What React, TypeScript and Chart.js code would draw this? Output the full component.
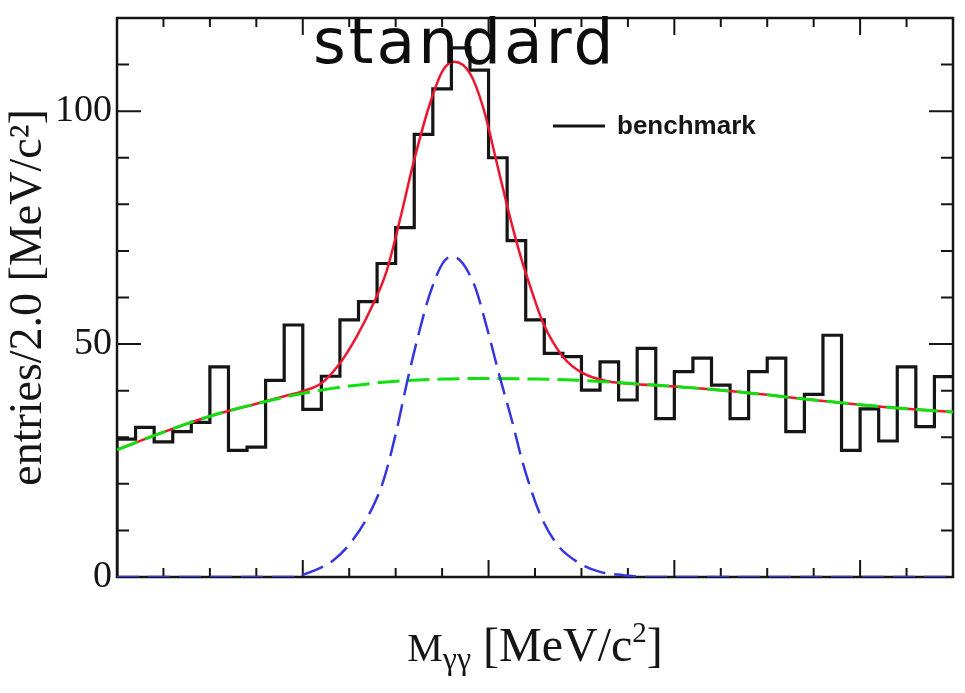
import React, { useEffect, useRef } from "react";
import { Chart, registerables } from "chart.js";

Chart.register(...registerables);

// ---- data ----
const xMin = 0;
const xMax = 90;
const binWidth = 2;
const counts = [
  29.6, 32.1, 29.0, 31.2, 33.2, 45.1, 27.2, 27.9, 42.2, 54.1,
  36.0, 43.1, 55.2, 59.1, 67.3, 75.0, 95.0, 104.8, 113.6, 108.8,
  90.0, 72.2, 55.2, 48.0, 47.3, 40.1, 46.2, 38.0, 49.1, 34.0,
  44.1, 47.0, 41.2, 34.0, 44.1, 47.0, 31.2, 39.2, 51.9, 27.2,
  36.1, 29.2, 45.1, 32.3, 43.0,
];

const bgX = [0, 5, 10, 15, 20, 25, 30, 35, 40, 45, 50, 55, 60, 65, 70, 75, 80, 85, 90];
const bgY = [27.3, 31.1, 34.5, 37.2, 39.4, 41.0, 42.0, 42.5, 42.6, 42.5, 42.2, 41.6, 40.9, 40.1, 39.1, 38.0, 37.0, 36.1, 35.4];

const sigX = [0, 19, 19.9, 23.3, 25.1, 27.2, 28.7, 30.1, 31.2, 32.4, 33.7, 35.3, 36.2, 38.4, 39.8, 41.2, 42.5, 43.7, 45.5, 47.3, 49.5, 52.0, 54.5, 57, 90];
const sigY = [0, 0, 0.4, 3.6, 7.2, 13.7, 20.8, 31.5, 41.6, 51.6, 60.9, 68.0, 68.7, 63.0, 53.7, 43.0, 33.7, 24.4, 13.7, 7.2, 3.3, 1.1, 0.4, 0, 0];

const totX = [0, 5, 10, 15, 18, 20, 22, 24, 25.8, 27.6, 29, 30.5, 31.9, 33.7, 35.1, 36.3, 38, 39.4, 40.9, 42.3, 43.6, 44.5, 45.9, 48, 50.2, 53.1, 55.2, 60, 65, 70, 75, 80, 85, 90];
const totY = [27.3, 31.1, 34.5, 37.2, 38.8, 39.9, 41.6, 45.9, 51.6, 58.7, 65.5, 77, 88.8, 101.7, 108.8, 110.6, 108.1, 100.9, 88.8, 77.3, 67.8, 62.3, 54.4, 47.3, 43.7, 41.9, 41.5, 40.9, 40.1, 39.1, 38.0, 37.0, 36.1, 35.4];

const yMin = 0;
const yMax = 120;
const yLabelValues = [0, 50, 100];

const titleText = "standard";
const legendLabel = "benchmark";
const yTitle = "entries/2.0 [MeV/c²]";

const SERIF = '"Liberation Serif", "DejaVu Serif", serif';

const deco = {
  id: "deco",
  beforeDatasetsDraw(chart: any) {
    const { ctx, chartArea: a, scales } = chart;
    const x = scales.x;
    const y = scales.y;
    ctx.save();
    ctx.strokeStyle = "#151515";
    ctx.lineWidth = 2;
    ctx.beginPath();
    for (const t of y.ticks) {
      const v = t.value;
      if (v <= yMin || v >= yMax) continue;
      const py = y.getPixelForValue(v);
      const L = v % 50 === 0 ? 24 : 12;
      ctx.moveTo(a.left, py);
      ctx.lineTo(a.left + L, py);
      ctx.moveTo(a.right, py);
      ctx.lineTo(a.right - L, py);
    }
    for (const t of x.ticks) {
      const v = t.value;
      if (v <= xMin || v >= xMax) continue;
      const px = x.getPixelForValue(v);
      const L = v % 20 === 0 ? 17 : 9;
      ctx.moveTo(px, a.bottom);
      ctx.lineTo(px, a.bottom - L);
      ctx.moveTo(px, a.top);
      ctx.lineTo(px, a.top + L);
    }
    ctx.stroke();
    ctx.lineWidth = 2.5;
    ctx.strokeRect(a.left, a.top, a.right - a.left, a.bottom - a.top);
    ctx.restore();
  },
  afterDraw(chart: any) {
    const { ctx, chartArea: a } = chart;
    ctx.save();
    // legend
    ctx.strokeStyle = "#151515";
    ctx.lineWidth = 3;
    ctx.beginPath();
    ctx.moveTo(553, 126);
    ctx.lineTo(605, 126);
    ctx.stroke();
    ctx.fillStyle = "#151515";
    ctx.font = 'bold 26px "Liberation Sans", Arial, sans-serif';
    ctx.textBaseline = "middle";
    ctx.textAlign = "left";
    ctx.fillText(legendLabel, 617, 127);

    // x-axis title with sub/superscripts
    const parts = [
      { t: "M", size: 40, dy: 0 },
      { t: "γγ", size: 32, dy: 8 },
      { t: " [MeV/c", size: 48, dy: 0 },
      { t: "2", size: 29, dy: -19 },
      { t: "]", size: 48, dy: 0 },
    ];
    ctx.textBaseline = "alphabetic";
    let total = 0;
    const widths: number[] = [];
    for (const p of parts) {
      ctx.font = `${p.size}px ${SERIF}`;
      const w = ctx.measureText(p.t).width;
      widths.push(w);
      total += w;
    }
    let cx = (a.left + a.right) / 2 - total / 2;
    const base = 661;
    parts.forEach((p, i) => {
      ctx.font = `${p.size}px ${SERIF}`;
      ctx.fillText(p.t, cx, base + p.dy);
      cx += widths[i];
    });

    // overlaid title
    ctx.fillStyle = "#0d0d0d";
    ctx.font = '63px "DejaVu Sans", sans-serif';
    ctx.textAlign = "left";
    try {
      (ctx as any).letterSpacing = "3px";
    } catch (e) {}
    ctx.fillText(titleText, 313, 63);
    ctx.restore();
  },
};

export default function App() {
  const ref = useRef<HTMLCanvasElement | null>(null);

  useEffect(() => {
    if (!ref.current) return;
    const hist: { x: number; y: number }[] = [{ x: xMin, y: 0 }];
    counts.forEach((c, i) => hist.push({ x: xMin + i * binWidth, y: c }));
    hist.push({ x: xMax, y: counts[counts.length - 1] });

    const chart = new Chart(ref.current, {
      type: "line",
      data: {
        datasets: [
          {
            label: "signal",
            data: sigX.map((x, i) => ({ x, y: sigY[i] })),
            borderColor: "#3636e0",
            borderWidth: 2.5,
            borderDash: [22, 9],
            pointRadius: 0,
            cubicInterpolationMode: "monotone",
            fill: false,
          },
          {
            label: "background",
            data: bgX.map((x, i) => ({ x, y: bgY[i] })),
            borderColor: "#10e010",
            borderWidth: 3,
            borderDash: [22, 8],
            pointRadius: 0,
            cubicInterpolationMode: "monotone",
            fill: false,
          },
          {
            label: "fit",
            data: totX.map((x, i) => ({ x, y: totY[i] })),
            borderColor: "#ee1530",
            borderWidth: 2.5,
            pointRadius: 0,
            cubicInterpolationMode: "monotone",
            fill: false,
          },
          {
            label: legendLabel,
            data: hist,
            borderColor: "#151515",
            borderWidth: 3.2,
            stepped: "before",
            pointRadius: 0,
            fill: false,
          },
        ],
      } as any,
      options: {
        responsive: false,
        animation: false,
        layout: { padding: { top: 18, right: 12, left: 0, bottom: 0 } },
        plugins: {
          legend: { display: false },
          tooltip: { enabled: false },
          title: { display: false },
        },
        scales: {
          x: {
            type: "linear",
            min: xMin,
            max: xMax,
            ticks: { display: false, stepSize: 5 },
            grid: { display: false },
            border: { display: false },
            afterFit: (s: any) => {
              s.height = 116;
              s.paddingLeft = 0;
              s.paddingRight = 0;
            },
          },
          y: {
            type: "linear",
            min: yMin,
            max: yMax,
            ticks: {
              stepSize: 10,
              padding: 5,
              autoSkip: false,
              color: "#151515",
              font: { family: SERIF, size: 38 },
              callback: (v: any) => (yLabelValues.includes(Number(v)) ? String(v) : ""),
            },
            grid: { display: false, drawTicks: false },
            border: { display: false },
            title: {
              display: true,
              text: yTitle,
              color: "#151515",
              font: { family: SERIF, size: 46 },
              padding: { top: 1, bottom: 0 },
            },
            afterFit: (s: any) => {
              s.width = 117;
              s.paddingTop = 0;
              s.paddingBottom = 0;
            },
          },
        },
      } as any,
      plugins: [deco],
    });
    return () => chart.destroy();
  }, []);

  return (
    <div style={{ position: "absolute", left: 0, top: 0, width: 965, height: 693, background: "#fff" }}>
      <canvas ref={ref} width={965} height={693} style={{ display: "block" }} />
    </div>
  );
}
